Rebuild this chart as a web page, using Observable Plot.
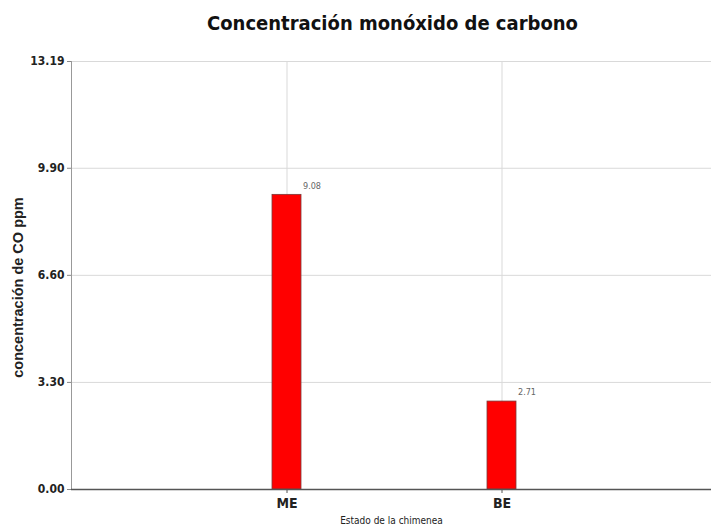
<!DOCTYPE html>
<html>
<head>
<meta charset="utf-8">
<script src="https://cdn.jsdelivr.net/npm/d3@7"></script>
<script src="https://cdn.jsdelivr.net/npm/@observablehq/plot@0.6"></script>
<style>
  body { margin: 0; background: #fff; }
  #title { height: 44px; width: 711px; box-sizing: border-box; padding-left: 74px; text-align: center;
    font-family: "DejaVu Sans Condensed", "Liberation Sans", sans-serif; font-weight: bold;
    font-size: 20px; line-height: 46px; color: #111; }
</style>
</head>
<body>
<div id="title">Concentración monóxido de carbono</div>
<div id="chart"></div>
<script>
const categories = ["ME", "BE"];
const values = [9.08, 2.71];
const valueLabels = ["9.08", "2.71"];
const yTicks = [0, 3.30, 6.60, 9.90, 13.19];

const data = categories.map((c, i) => ({cat: c, v: values[i], label: valueLabels[i]}));

const chart = Plot.plot({
  width: 711,
  height: 487,
  marginTop: 17,
  marginBottom: 42,
  marginLeft: 71,
  marginRight: 0,
  style: {background: "#fff", color: "#222", fontFamily: "'DejaVu Sans Condensed', 'Liberation Sans', sans-serif"},
  x: {domain: categories, paddingInner: 0.865, paddingOuter: 0.918, align: 0.507, label: null},
  y: {domain: [0, 13.19], ticks: yTicks, label: null},
  marks: [
    Plot.gridY(yTicks, {stroke: "#d9d9d9", strokeOpacity: 1}),
    Plot.gridX(categories, {stroke: "#d9d9d9", strokeOpacity: 1}),
    Plot.axisY({ticks: yTicks, tickFormat: d => d.toFixed(2), tickSize: 4, tickPadding: 3,
      fontSize: 12, fontWeight: "bold", fill: "#222", label: null, stroke: "#888"}),
    Plot.axisX({tickSize: 4, tickPadding: 5, fontSize: 14, fontWeight: "bold", fill: "#222", label: null, stroke: "#555"}),
    Plot.frame({anchor: "left", stroke: "#999"}),
    Plot.barY(data, {x: "cat", y: "v", fill: "#ff0000", stroke: "#7a3a3a", strokeWidth: 0.8}),
    Plot.ruleY([0], {stroke: "#555", strokeWidth: 1.5}),
    Plot.text(data, {x: "cat", y: "v", text: "label", dx: 16, dy: -9, textAnchor: "start",
      fontSize: 9, fill: "#666"}),
    Plot.text(["Estado de la chimenea"], {frameAnchor: "bottom", dy: 34, fontSize: 10, fill: "#222"}),
    Plot.text(["concentración de CO ppm"], {frameAnchor: "left", dx: -53, dy: 12, rotate: -90, textAnchor: "middle",
      fontSize: 14.5, fontWeight: "bold", fill: "#222",
      fontFamily: "'Liberation Sans', Arial, sans-serif"})
  ]
});
document.getElementById("chart").appendChild(chart);
</script>
</body>
</html>
